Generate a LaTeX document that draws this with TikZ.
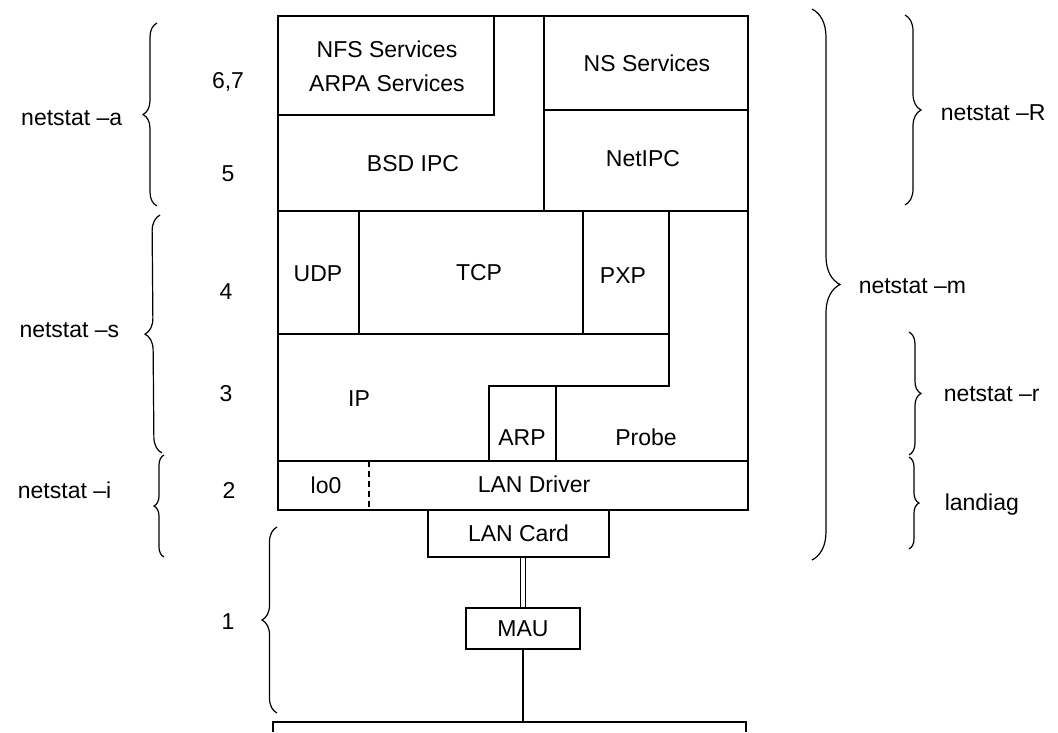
\documentclass[tikz,border=0pt]{standalone}
\usepackage{fontspec}
\setmainfont{Liberation Sans}
\usetikzlibrary{decorations.pathreplacing}
\begin{document}
\begin{tikzpicture}[x=1pt,y=-1pt,line width=1.5pt,
  every node/.style={font=\fontsize{23}{27}\selectfont,inner sep=0pt,text height=16.5pt,text depth=0pt},
  box/.style={draw,line width=1.5pt},
  curly/.style={draw,line width=1.2pt,decorate,decoration={brace,amplitude=#1}}]
\fill[white] (0,0) rectangle (1058,732);
\useasboundingbox (0,0) rectangle (1058,732);

% ---- main layered block ----
\draw (278,16) rectangle (748,510);
\draw (494,16) -- (494,115) -- (278,115);
\draw (544,16) -- (544,211);
\draw (544,110) -- (748,110);
\draw (278,211) -- (748,211);
\draw (359,211) -- (359,334);
\draw (583,211) -- (583,334);
\draw (278,334) -- (669,334);
\draw (669,211) -- (669,386) -- (489,386) -- (489,461);
\draw (556,386) -- (556,461);
\draw (278,461) -- (748,461);
\draw[dash pattern=on 6pt off 4pt] (369,461) -- (369,510);

\node (nfs) at (387,49) {NFS Services};
\node (arpa) at (387,83) {ARPA Services};
\node (ns) at (647,63) {NS Services};
\node (bsd) at (413,163) {BSD IPC};
\node (netipc) at (643,158) {NetIPC};
\node (udp) at (318,273) {UDP};
\node (tcp) at (479,272) {TCP};
\node (pxp) at (623,275) {PXP};
\node (ip) at (359,398) {IP};
\node (arp) at (522,437) {ARP};
\node (probe) at (646,437) {Probe};
\node (lo) at (326,485) {lo0};
\node (drv) at (534,484) {LAN Driver};

% ---- hardware ----
\node[box,minimum width=181pt,minimum height=47pt] (card) at (518.5,533.5) {LAN Card};
\node[box,minimum width=114pt,minimum height=41pt] (mau) at (523,628.5) {MAU};
\draw[double,double distance=3.5pt,line width=1.3pt] (card.south -| mau.north) -- (mau.north);
\coordinate (busL) at (273,722);
\coordinate (busR) at (746,722);
\coordinate (busLe) at (273,732);
\coordinate (busRe) at (746,732);
\draw (mau.south) -- (mau.south |- busL);
\draw (busLe) -- (busL) -- (busR) -- (busRe);

% ---- layer numbers ----
\node (l67) at (228,80) {6,7};
\node (l5) at (228,173) {5};
\node (l4) at (226,291) {4};
\node (l3) at (226,393) {3};
\node (l2) at (229,490) {2};
\node (l1) at (228,621) {1};

% ---- left braces ----
\coordinate (aT) at (157,23);  \coordinate (aB) at (157,206);
\coordinate (sT) at (160,215); \coordinate (sB) at (162,453);
\coordinate (iT) at (164,455); \coordinate (iB) at (164,557);
\coordinate (oT) at (277,527); \coordinate (oB) at (277,713);
\draw[curly=14pt] (aB) -- (aT);
\draw[curly=16pt] (sB) -- (sT);
\draw[curly=10pt] (iB) -- (iT);
\draw[curly=15pt] (oB) -- (oT);
\node[anchor=east] (na) at (123,117) {netstat –a};
\node[anchor=east] (ns2) at (120,329) {netstat –s};
\node[anchor=east] (ni) at (112,490) {netstat –i};

% ---- right braces ----
\coordinate (mT) at (812,9);   \coordinate (mB) at (812,560);
\coordinate (RT) at (905,15);  \coordinate (RB) at (905,205);
\coordinate (rT) at (909,332); \coordinate (rB) at (909,455);
\coordinate (dT) at (909,457); \coordinate (dB) at (909,549);
\draw[curly=28pt] (mT) -- (mB);
\draw[curly=16pt] (RT) -- (RB);
\draw[curly=12pt] (rT) -- (rB);
\draw[curly=10pt] (dT) -- (dB);
\node[anchor=west] (nm) at (858,285) {netstat –m};
\node[anchor=west] (nR) at (940,112) {netstat –R};
\node[anchor=west] (nr) at (943,393) {netstat –r};
\node[anchor=west] (nl) at (944,502) {landiag};
\end{tikzpicture}
\end{document}
